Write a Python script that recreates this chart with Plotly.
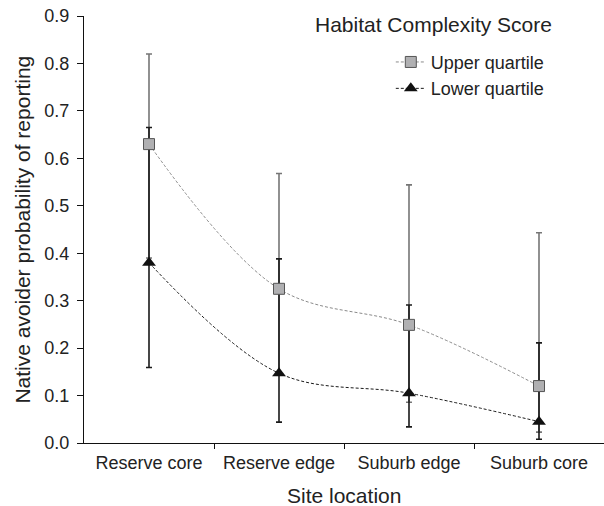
import plotly.graph_objects as go

# Site locations along the urban gradient
sites = ["Reserve core", "Reserve edge", "Suburb edge", "Suburb core"]

# Upper quartile of habitat complexity: estimate and interval bounds
upper_est = [0.630, 0.325, 0.249, 0.120]
upper_hi = [0.820, 0.568, 0.544, 0.443]
upper_lo = [0.390, 0.150, 0.086, 0.023]

# Lower quartile of habitat complexity: estimate and interval bounds
lower_est = [0.380, 0.147, 0.105, 0.045]
lower_hi = [0.665, 0.388, 0.291, 0.211]
lower_lo = [0.159, 0.044, 0.034, 0.008]

y_ticks = [0.0, 0.1, 0.2, 0.3, 0.4, 0.5, 0.6, 0.7, 0.8, 0.9]

xs = list(range(len(sites)))
FONT = "Liberation Sans, Arial, sans-serif"
TXT = "#222222"


def err(est, hi, lo, color):
    return dict(
        type="data", symmetric=False,
        array=[h - e for h, e in zip(hi, est)],
        arrayminus=[e - l for e, l in zip(est, lo)],
        color=color, thickness=1.6, width=3,
    )


fig = go.Figure()

# Interval whiskers first so the markers sit on top of them
fig.add_trace(go.Scatter(
    x=xs, y=upper_est, mode="markers", showlegend=False, hoverinfo="skip",
    marker=dict(size=1, opacity=0),
    error_y=err(upper_est, upper_hi, upper_lo, "#767676"),
))
fig.add_trace(go.Scatter(
    x=xs, y=lower_est, mode="markers", showlegend=False, hoverinfo="skip",
    marker=dict(size=1, opacity=0),
    error_y=err(lower_est, lower_hi, lower_lo, "#1a1a1a"),
))

# Smoothed dashed lines with markers
fig.add_trace(go.Scatter(
    x=xs, y=upper_est, mode="lines+markers", name="Upper quartile",
    line=dict(color="#8a8a8a", width=1, dash="3px,2px", shape="spline", smoothing=1),
    marker=dict(symbol="square", size=11, color="#b0b0b2",
                line=dict(color="#555555", width=1)),
))
fig.add_trace(go.Scatter(
    x=xs, y=lower_est, mode="lines+markers", name="Lower quartile",
    line=dict(color="#1a1a1a", width=1, dash="3px,2px", shape="spline", smoothing=1),
    marker=dict(symbol="triangle-up", size=12, color="#111111",
                line=dict(color="#111111", width=0)),
))

# Legend heading
fig.add_annotation(
    text="Habitat Complexity Score", xref="paper", yref="paper",
    x=0.673, y=0.979, xanchor="center", yanchor="middle", showarrow=False,
    font=dict(family=FONT, size=21, color=TXT),
)
# Axis titles
fig.add_annotation(
    text="Site location", xref="paper", yref="paper",
    x=0.5, y=-0.122, xanchor="center", yanchor="middle", showarrow=False,
    font=dict(family=FONT, size=21, color=TXT),
)
fig.add_annotation(
    text="Native avoider probability of reporting", xref="paper", yref="paper",
    x=-0.119, y=0.5, xanchor="center", yanchor="middle", showarrow=False,
    textangle=-90, font=dict(family=FONT, size=21, color=TXT),
)

fig.update_layout(
    width=604, height=506,
    margin=dict(l=84, r=0, t=16, b=63),
    paper_bgcolor="white", plot_bgcolor="white",
    font=dict(family=FONT, size=18, color=TXT),
    legend=dict(
        x=0.59, y=0.935, xanchor="left", yanchor="top",
        bgcolor="rgba(0,0,0,0)", font=dict(family=FONT, size=18, color=TXT),
        tracegroupgap=0, itemwidth=30,
    ),
    xaxis=dict(
        range=[-0.5, 3.5], tickvals=xs, ticktext=sites,
        ticks="", showgrid=False, zeroline=False,
        showline=True, linecolor="#111111", linewidth=1,
        ticklabelstandoff=3,
        tickfont=dict(family=FONT, size=18, color=TXT),
        minor=dict(tickvals=[0.5, 1.5, 2.5], ticks="outside", ticklen=5,
                   tickcolor="#111111", showgrid=False),
    ),
    yaxis=dict(
        range=[0, 0.9], tickvals=y_ticks, tickformat=".1f",
        ticks="outside", ticklen=6, tickcolor="#111111",
        ticklabelstandoff=4,
        showgrid=False, zeroline=False,
        showline=True, linecolor="#111111", linewidth=1,
        tickfont=dict(family=FONT, size=18, color=TXT),
    ),
)

fig.write_html("out.html")
